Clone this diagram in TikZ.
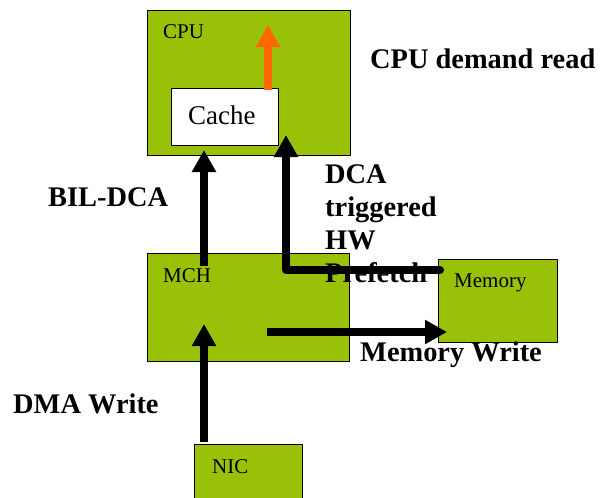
\documentclass[tikz,border=0pt]{standalone}
\usepackage{fontspec}
\setmainfont{Liberation Serif}
\usetikzlibrary{arrows.meta}
\definecolor{boxgreen}{RGB}{153,193,8}
\definecolor{arrorange}{RGB}{255,102,0}
\tikzset{
  unitbox/.style={draw=black, line width=1pt, fill=boxgreen},
  boxlabel/.style={anchor=base west, inner sep=0pt, font=\fontsize{21}{25}\selectfont},
  biglabel/.style={anchor=base west, inner sep=0pt, font=\fontsize{28.4}{33}\selectfont\bfseries},
  thickarr/.style={line width=8pt, -{Triangle[width=23pt,length=22pt]}},
}
\begin{document}
\begin{tikzpicture}[x=1pt,y=-1pt]
\useasboundingbox (0,0) rectangle (600,498);
% boxes
\draw[unitbox] (147,10) rectangle (350,155);
\node[boxlabel] (cpu) at (163,38) {CPU};
\draw[draw=black, line width=1pt, fill=white] (171,88) rectangle (278,145);
\node[anchor=base west, inner sep=0pt, font=\fontsize{27}{30}\selectfont] (cache) at (188,124) {Cache};
\draw[unitbox] (147,253) rectangle (349,361);
\node[boxlabel] (mch) at (163,282) {MCH};
\draw[unitbox] (438,259) rectangle (557,342);
\node[boxlabel] (mem) at (454,287) {Memory};
\draw[unitbox] (194,444) rectangle (302,530);
\node[boxlabel] (nic) at (212,473) {NIC};
% coordinates
\coordinate (dmaS) at (204,442);
\coordinate (dmaE) at (204,324);
\coordinate (bilS) at (204,266);
\coordinate (bilE) at (204,150);
\coordinate (preS) at (440,270);
\coordinate (preC) at (286,270);
\coordinate (preE) at (286,135);
\coordinate (mwS) at (267,332);
\coordinate (mwE) at (447,332);
\coordinate (orS) at (268,90);
\coordinate (orE) at (268,25);
% arrows
\draw[thickarr] (dmaS) -- (dmaE);
\draw[thickarr] (bilS) -- (bilE);
\draw[thickarr, line cap=round, line join=round] (preS) -- (preC) -- (preE);
\draw[thickarr] (mwS) -- (mwE);
\draw[thickarr, draw=arrorange, fill=arrorange] (orS) -- (orE);
% labels
\node[biglabel] (lcpu) at (370,68) {CPU demand read};
\node[biglabel] (lbil) at (48,206) {BIL-DCA};
\node[anchor=base west, inner sep=0pt, align=left, font=\fontsize{28.4}{33}\selectfont\bfseries] (lpre) at (325,282) {DCA\\triggered\\HW\\Prefetch};
\node[biglabel] (lmw) at (360,361) {Memory Write};
\node[biglabel] (ldma) at (13,413) {DMA Write};
\end{tikzpicture}
\end{document}
